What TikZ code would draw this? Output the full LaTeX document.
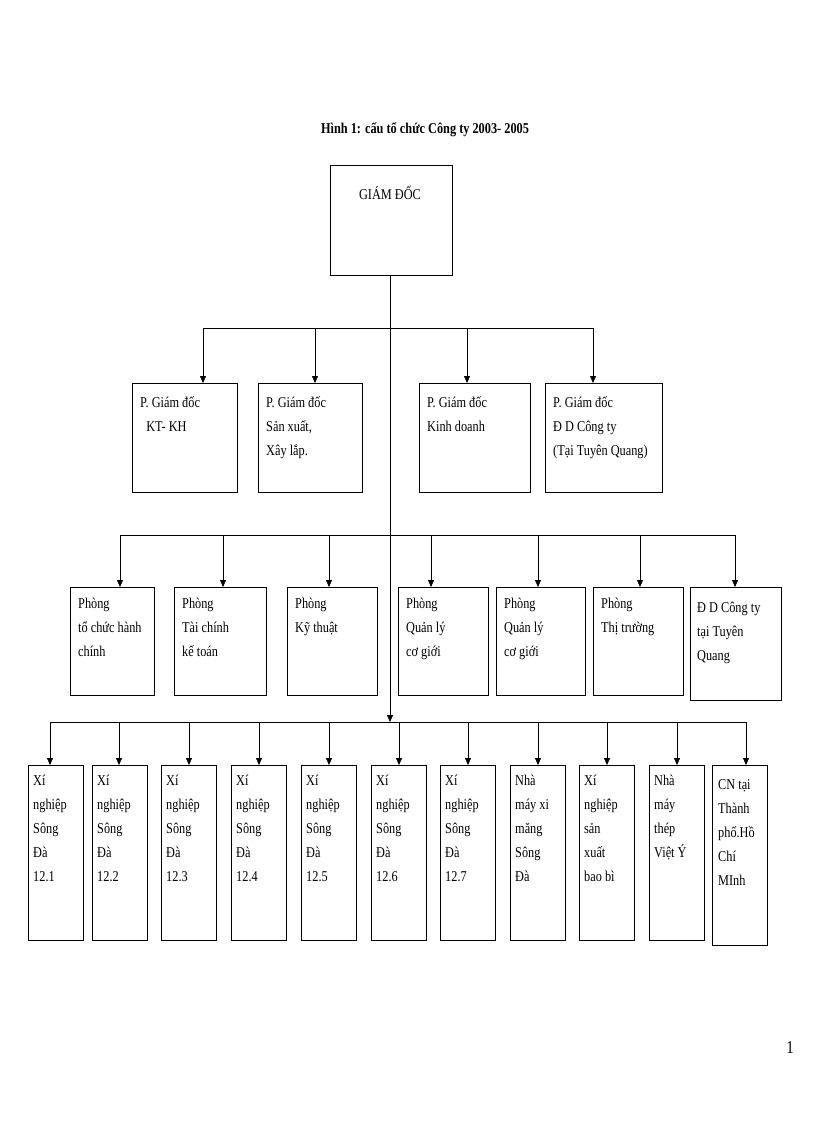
\documentclass[tikz,border=0pt]{standalone}
\usepackage{fontspec}
\setmainfont[FakeStretch=0.82]{Liberation Serif}
\usetikzlibrary{arrows.meta}
\begin{document}
\begin{tikzpicture}[x=1pt,y=-1pt,
  bx/.style={draw,thick,inner sep=0pt},
  tx/.style={anchor=north west,align=left,font=\fontsize{15}{24}\selectfont,inner sep=0pt},
  ar/.style={-{Triangle[length=7pt,width=6pt]},thin},
  ln/.style={thin}]
\useasboundingbox (0,0) rectangle (816,1123);
\node[font=\bfseries\fontsize{15}{18}\selectfont] (title) at (425,130) {Hình 1: cấu tổ chức Công ty 2003- 2005};
\draw[bx] (330,165) rectangle (452,275);
\node[font=\fontsize{15}{18}\selectfont] (gd) at (390,193) {GIÁM ĐỐC};
\coordinate (top) at (390,275);
% row 2
\foreach \a/\b/\n/\t in {132/237/p1/{P. Giám đốc\\ \ \ KT- KH},258/362/p2/{P. Giám đốc\\Sản xuất,\\Xây lắp.},419/530/p3/{P. Giám đốc\\Kinh doanh},545/662/p4/{P. Giám đốc\\Đ D Công ty\\(Tại Tuyên Quang)}}{
  \draw[bx] (\a,383) rectangle (\b,492);
  \node[tx] (\n) at (\a+8,396) {\t};
}
\draw[ln] (203,328) -- (593,328);
\foreach \x in {203,315,467,593} \draw[ar] (\x,328) -- (\x,383);
% row 3
\foreach \a/\b/\n/\t in {70/154/r1/{Phòng\\tổ chức hành\\chính},174/266/r2/{Phòng\\Tài chính\\kế toán},287/377/r3/{Phòng\\Kỹ thuật},398/488/r4/{Phòng\\Quản lý\\cơ giới},496/585/r5/{Phòng\\Quản lý\\cơ giới},593/683/r6/{Phòng\\Thị trường}}{
  \draw[bx] (\a,587) rectangle (\b,695);
  \node[tx] (\n) at (\a+8,598) {\t};
}
\draw[bx] (690,587) rectangle (781,700);
\node[tx] (r7) at (697,602) {Đ D Công ty\\tại Tuyên\\Quang};
\draw[ln] (120,535) -- (735,535);
\foreach \x in {120,223,329,431,538,640,735} \draw[ar] (\x,535) -- (\x,587);
% row 4
\foreach \a/\n/\t in {28/s1/{Xí\\nghiệp\\Sông\\Đà\\12.1},92/s2/{Xí\\nghiệp\\Sông\\Đà\\12.2},161/s3/{Xí\\nghiệp\\Sông\\Đà\\12.3},231/s4/{Xí\\nghiệp\\Sông\\Đà\\12.4},301/s5/{Xí\\nghiệp\\Sông\\Đà\\12.5},371/s6/{Xí\\nghiệp\\Sông\\Đà\\12.6},440/s7/{Xí\\nghiệp\\Sông\\Đà\\12.7},510/s8/{Nhà\\máy xi\\măng\\Sông\\Đà},579/s9/{Xí\\nghiệp\\sản\\xuất\\bao bì},649/s10/{Nhà\\máy\\thép\\Việt Ý}}{
  \draw[bx] (\a,765) rectangle (\a+55,940);
  \node[tx] (\n) at (\a+5,775) {\t};
}
\draw[bx] (712,765) rectangle (767,945);
\node[tx] (s11) at (718,779) {CN tại\\Thành\\phố.Hồ\\Chí\\MInh};
\draw[ln] (50,722) -- (746,722);
\foreach \x in {50,119,189,259,329,399,468,538,607,677,746} \draw[ar] (\x,722) -- (\x,765);
% trunk
\draw[ar] (top) -- (390,722);
\node[font=\fontsize{18}{20}\selectfont] (pg) at (790,1048) {1};
\end{tikzpicture}
\end{document}
